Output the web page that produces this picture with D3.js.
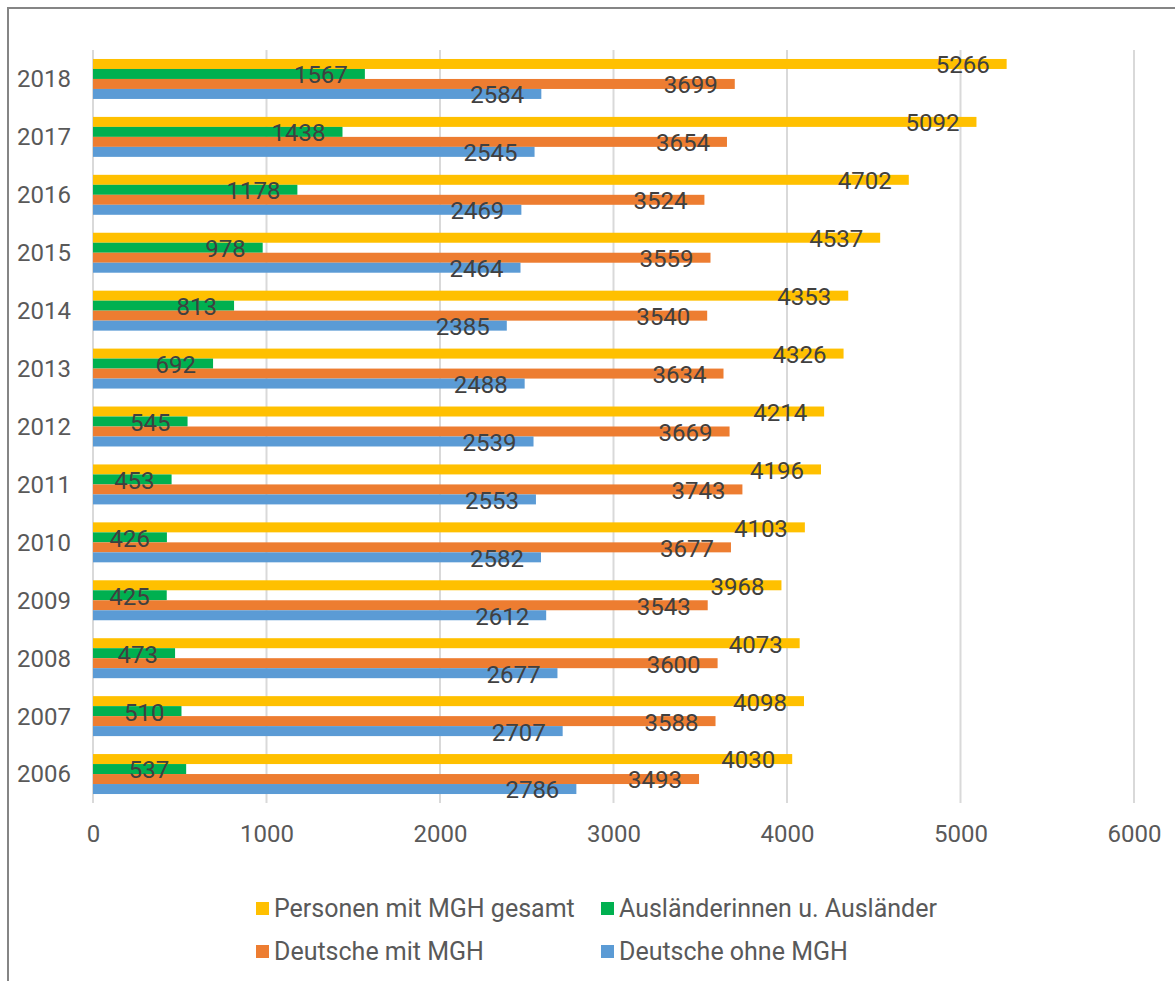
<!DOCTYPE html>
<html>
<head>
<meta charset="utf-8">
<script src="https://cdn.jsdelivr.net/npm/d3@7"></script>
<style>
  html, body { margin: 0; padding: 0; background: #fff; }
  svg { display: block; }
  text { font-family: Roboto, "Liberation Sans", Arial, sans-serif; }
</style>
</head>
<body>
<svg id="chart" width="1175" height="981"></svg>
<script>
// Jahre (oben das neueste Jahr)
const years = ["2018","2017","2016","2015","2014","2013","2012","2011","2010","2009","2008","2007","2006"];

// Reihen
const seriesNames = [
  "Personen mit MGH gesamt",
  "Ausländerinnen u. Ausländer",
  "Deutsche mit MGH",
  "Deutsche ohne MGH"
];
const seriesColors = ["#FFC000", "#00B050", "#ED7D31", "#5B9BD5"];

const personenMitMGH   = [5266, 5092, 4702, 4537, 4353, 4326, 4214, 4196, 4103, 3968, 4073, 4098, 4030];
const auslaender       = [1567, 1438, 1178, 978, 813, 692, 545, 453, 426, 425, 473, 510, 537];
const deutscheMitMGH   = [3699, 3654, 3524, 3559, 3540, 3634, 3669, 3743, 3677, 3543, 3600, 3588, 3493];
const deutscheOhneMGH  = [2584, 2545, 2469, 2464, 2385, 2488, 2539, 2553, 2582, 2612, 2677, 2707, 2786];

const xTicks = [0, 1000, 2000, 3000, 4000, 5000, 6000];

const seriesValues = [personenMitMGH, auslaender, deutscheMitMGH, deutscheOhneMGH];

const svg = d3.select("#chart");

// Rahmen (links und oben)
svg.append("path")
  .attr("d", "M8,981 L8,8 L1175,8")
  .attr("fill", "none")
  .attr("stroke", "#858585")
  .attr("stroke-width", 2);

const plot = { left: 93, right: 1134, top: 50, bottom: 803 };

const x = d3.scaleLinear().domain([0, 6000]).range([plot.left, plot.right]);
const y = d3.scaleBand().domain(years).range([plot.top, plot.bottom])
  .paddingInner(0.31).paddingOuter(0.155);
const ySub = d3.scaleBand().domain(d3.range(seriesNames.length)).range([0, y.bandwidth()]);

// Gitterlinien
svg.append("g").selectAll("line").data(xTicks).join("line")
  .attr("x1", d => x(d)).attr("x2", d => x(d))
  .attr("y1", plot.top).attr("y2", plot.bottom)
  .attr("stroke", "#d9d9d9").attr("stroke-width", 2);

// x-Achsenbeschriftung
const xAxis = d3.axisBottom(x).tickValues(xTicks).tickSize(0).tickPadding(0).tickFormat(d3.format("d"));
const gx = svg.append("g").attr("transform", `translate(0,${plot.bottom})`).call(xAxis);
gx.select(".domain").remove();
gx.selectAll("text")
  .attr("y", 39)
  .attr("dy", null)
  .style("font-size", "24px")
  .style("font-family", "Roboto, sans-serif")
  .attr("fill", "#595959");

// y-Achsenbeschriftung
const yAxis = d3.axisLeft(y).tickSize(0).tickPadding(22);
const gy = svg.append("g").attr("transform", `translate(${plot.left},0)`).call(yAxis);
gy.select(".domain").remove();
gy.selectAll("text")
  .attr("dy", "0.35em")
  .style("font-size", "24px")
  .style("font-family", "Roboto, sans-serif")
  .attr("fill", "#595959");

// Balken
const rows = [];
years.forEach((yr, i) => {
  seriesValues.forEach((vals, s) => {
    rows.push({ year: yr, s, value: vals[i] });
  });
});

svg.append("g").selectAll("rect").data(rows).join("rect")
  .attr("x", x(0))
  .attr("y", d => y(d.year) + ySub(d.s))
  .attr("width", d => x(d.value) - x(0))
  .attr("height", ySub.bandwidth())
  .attr("fill", d => seriesColors[d.s]);

// Werte
svg.append("g").selectAll("text").data(rows).join("text")
  .attr("x", d => x(d.value) - 17)
  .attr("y", d => y(d.year) + ySub(d.s) + ySub.bandwidth() / 2 + 1)
  .attr("dy", "0.35em")
  .attr("text-anchor", "end")
  .style("font-size", "24px")
  .attr("fill", "#404040")
  .text(d => d.value);

// Legende
const legendPos = [
  { x: 256, y: 908.5 },
  { x: 601, y: 908.5 },
  { x: 256, y: 951.5 },
  { x: 601, y: 951.5 }
];
const lg = svg.append("g").selectAll("g").data(seriesNames).join("g")
  .attr("transform", (d, i) => `translate(${legendPos[i].x},${legendPos[i].y})`);
lg.append("rect")
  .attr("x", 0).attr("y", -6.5).attr("width", 13).attr("height", 13)
  .attr("fill", (d, i) => seriesColors[i]);
lg.append("text")
  .attr("x", 18).attr("y", 0).attr("dy", "0.35em")
  .style("font-size", "25px")
  .attr("fill", "#595959")
  .text(d => d);
</script>
</body>
</html>
